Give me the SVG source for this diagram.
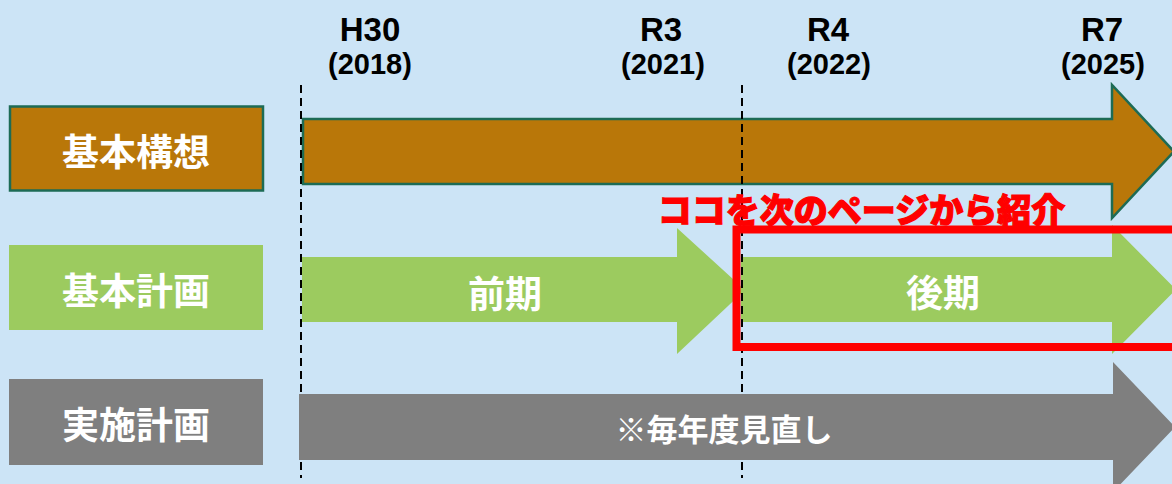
<svg xmlns="http://www.w3.org/2000/svg" width="1172" height="484" viewBox="0 0 1172 484">
  <style>
    .jp { font-family: "Noto Sans CJK JP", "Noto Sans", sans-serif; font-weight: 700; fill: #ffffff; text-anchor: middle; }
    .yr { font-family: "Liberation Sans", Arial, sans-serif; font-weight: 700; fill: #000000; text-anchor: middle; }
    .guide { stroke: #000000; stroke-width: 2; stroke-dasharray: 8 5; fill: none; }
    .brown { fill: #B97709; stroke: #1D6B55; stroke-width: 2.5; }
    .green { fill: #9CCB5F; }
    .gray { fill: #7F7F7F; }
  </style>
  <rect x="0" y="0" width="1172" height="484" fill="#CCE4F6"/>

  <g id="year-labels">
    <text class="yr" x="370" y="41" font-size="33">H30</text>
    <text class="yr" x="370" y="74" font-size="29">(2018)</text>
    <text class="yr" x="661" y="41" font-size="33">R3</text>
    <text class="yr" x="663" y="74" font-size="29">(2021)</text>
    <text class="yr" x="828" y="41" font-size="33">R4</text>
    <text class="yr" x="829" y="74" font-size="29">(2022)</text>
    <text class="yr" x="1102" y="41" font-size="33">R7</text>
    <text class="yr" x="1103" y="74" font-size="29">(2025)</text>
  </g>

  <g id="label-kihon-koso">
    <rect class="brown" x="10" y="106.5" width="253" height="84"/>
    <text class="jp" x="136" y="165.5" font-size="37">基本構想</text>
  </g>
  <g id="label-kihon-keikaku">
    <rect class="green" x="9" y="245" width="254" height="85"/>
    <text class="jp" x="136" y="305" font-size="37">基本計画</text>
  </g>
  <g id="label-jisshi-keikaku">
    <rect class="gray" x="9" y="379" width="254" height="86"/>
    <text class="jp" x="136" y="439" font-size="37">実施計画</text>
  </g>

  <g id="arrow-kihon-koso">
    <polygon class="brown" points="303,119 1112,119 1112,85 1174,151.5 1112,218 1112,184 303,184"/>
  </g>

  <g id="arrow-zenki">
    <polygon class="green" points="302,257 677,257 677,228 745,290 677,354 677,322 302,322"/>
    <text class="jp" x="505" y="307.5" font-size="37">前期</text>
  </g>
  <g id="arrow-koki">
    <polygon class="green" points="741,257 1112,257 1112,225 1176,289.5 1112,354 1112,322 741,322"/>
    <text class="jp" x="943" y="307" font-size="37">後期</text>
  </g>

  <g id="connectors">
    <line class="guide" x1="301" y1="85" x2="301" y2="478"/>
    <line class="guide" x1="742" y1="85" x2="742" y2="478"/>
  </g>

  <g id="arrow-jisshi">
    <polygon class="gray" points="299,394 1113,394 1113,362 1175,427 1113,492 1113,460 299,460"/>
    <text class="jp" x="724" y="441" font-size="31">※毎年度見直し</text>
  </g>

  <g id="highlight">
    <rect x="736.5" y="229.5" width="460" height="117.5" fill="none" stroke="#FF0000" stroke-width="8"/>
    <text x="861.5" y="223" font-family="&quot;Noto Sans CJK JP&quot;, &quot;Noto Sans&quot;, sans-serif" font-weight="900" font-size="34" fill="#FF0000" stroke="#FF0000" stroke-width="1.2" text-anchor="middle">ココを次のページから紹介</text>
  </g>
</svg>
